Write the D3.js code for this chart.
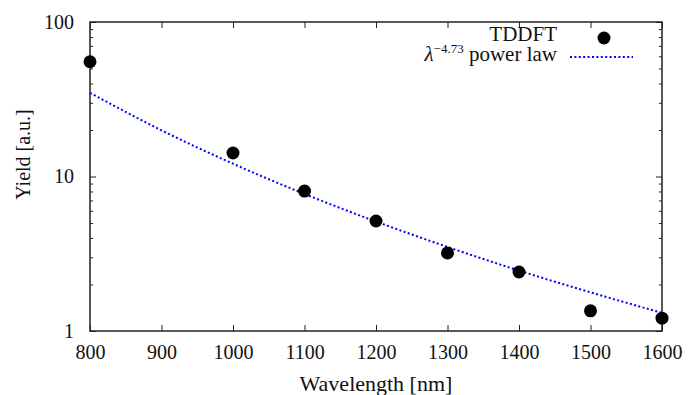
<!DOCTYPE html>
<html>
<head>
<meta charset="utf-8">
<script src="https://cdn.jsdelivr.net/npm/d3@7"></script>
<style>
  body { margin: 0; background: #fff; }
  svg text { font-family: 'Liberation Serif', serif; fill: #111; }
</style>
</head>
<body>
<div id="chart"></div>
<script>
// TDDFT points
let wavelengths = [800, 1000, 1100, 1200, 1300, 1400, 1500, 1600];
let yields      = [55.3, 14.2, 8.05, 5.15, 3.2, 2.41, 1.35, 1.21];

// power law curve
let fitX = [800, 900, 1000, 1100, 1200, 1300, 1400, 1500, 1600];
let fitY = [34.8, 19.9, 12.1, 7.71, 5.11, 3.50, 2.46, 1.78, 1.31];

let xTicks = [800, 900, 1000, 1100, 1200, 1300, 1400, 1500, 1600];
let yTicks = [1, 10, 100];

let font = "'Liberation Serif', serif";

let width  = 688;
let height = 395;
let margin = { top: 22, bottom: 64, left: 90, right: 26 };
let w = width - margin.left - margin.right;
let h = height - margin.top - margin.bottom;

let svg = d3.select('#chart')
    .append('svg')
        .attr('width', width)
        .attr('height', height)
    .append('g')
        .attr('transform', 'translate(' + margin.left + ',' + margin.top + ')');

let xScale = d3.scaleLinear().domain([800, 1600]).range([0, w]);
let yScale = d3.scaleLog().domain([1, 100]).range([h, 0]);

// minor ticks for log axis
let minor = [];
[1, 10].forEach(function (dec) {
    for (let k = 2; k <= 9; k++) minor.push(dec * k);
});

function style(g) {
    g.select('.domain').remove();
    g.selectAll('.tick line').attr('stroke', '#222').attr('stroke-width', 1);
    g.selectAll('.tick text')
        .style('font-family', font)
        .style('font-size', '20px');
}

// bottom
svg.append('g')
    .attr('transform', 'translate(0,' + h + ')')
    .call(d3.axisBottom(xScale).tickValues(xTicks).tickSize(-6).tickPadding(14).tickFormat(d3.format('d')))
    .call(style);

// top
svg.append('g')
    .call(d3.axisTop(xScale).tickValues(xTicks).tickSize(-6).tickFormat(''))
    .call(style);

// left
svg.append('g')
    .call(d3.axisLeft(yScale).tickValues(yTicks).tickSize(-6).tickPadding(16).tickFormat(d3.format('d')))
    .call(style);
svg.append('g')
    .call(d3.axisLeft(yScale).tickValues(minor).tickSize(-3).tickFormat(''))
    .call(style);

// right
svg.append('g')
    .attr('transform', 'translate(' + w + ',0)')
    .call(d3.axisRight(yScale).tickValues(yTicks).tickSize(-6).tickFormat(''))
    .call(style);
svg.append('g')
    .attr('transform', 'translate(' + w + ',0)')
    .call(d3.axisRight(yScale).tickValues(minor).tickSize(-3).tickFormat(''))
    .call(style);

// frame
svg.append('rect')
    .attr('x', 0).attr('y', 0)
    .attr('width', w).attr('height', h)
    .attr('fill', 'none')
    .attr('stroke', '#222')
    .attr('stroke-width', 1.5);

// fit line
let line = d3.line()
    .x(function (d, i) { return xScale(fitX[i]); })
    .y(function (d) { return yScale(d); })
    .curve(d3.curveMonotoneX);

svg.append('path')
    .datum(fitY)
    .attr('d', line)
    .attr('fill', 'none')
    .attr('stroke', '#0000ff')
    .attr('stroke-width', 2)
    .attr('stroke-dasharray', '2,2.4');

// points
svg.selectAll('.pt')
    .data(yields)
    .enter()
    .append('circle')
        .attr('class', 'pt')
        .attr('cx', function (d, i) { return xScale(wavelengths[i]); })
        .attr('cy', function (d) { return yScale(d); })
        .attr('r', 6.5)
        .attr('fill', '#000');

// legend
let leg = svg.append('g');
leg.append('text')
    .attr('x', 467).attr('y', 19)
    .attr('text-anchor', 'end')
    .style('font-size', '21px')
    .text('TDDFT');
leg.append('circle')
    .attr('cx', 514).attr('cy', 16).attr('r', 6.5).attr('fill', '#000');

let t2 = leg.append('text')
    .attr('x', 467).attr('y', 39)
    .attr('text-anchor', 'end')
    .style('font-size', '21px');
t2.append('tspan').style('font-style', 'italic').text('λ');
t2.append('tspan').style('font-size', '13px').attr('dy', -8).text('−4.73');
t2.append('tspan').attr('dy', 8).text(' power law');

leg.append('line')
    .attr('x1', 480).attr('x2', 543)
    .attr('y1', 35).attr('y2', 35)
    .attr('stroke', '#0000ff')
    .attr('stroke-width', 2)
    .attr('stroke-dasharray', '2,2.4');

// axis titles
svg.append('text')
    .attr('x', w / 2).attr('y', h + 60)
    .attr('text-anchor', 'middle')
    .style('font-size', '22px')
    .text('Wavelength [nm]');

svg.append('text')
    .attr('transform', 'translate(' + (-60) + ',' + (h / 2 - 22) + ') rotate(-90)')
    .attr('text-anchor', 'middle')
    .style('font-size', '20px')
    .text('Yield [a.u.]');
</script>
</body>
</html>
